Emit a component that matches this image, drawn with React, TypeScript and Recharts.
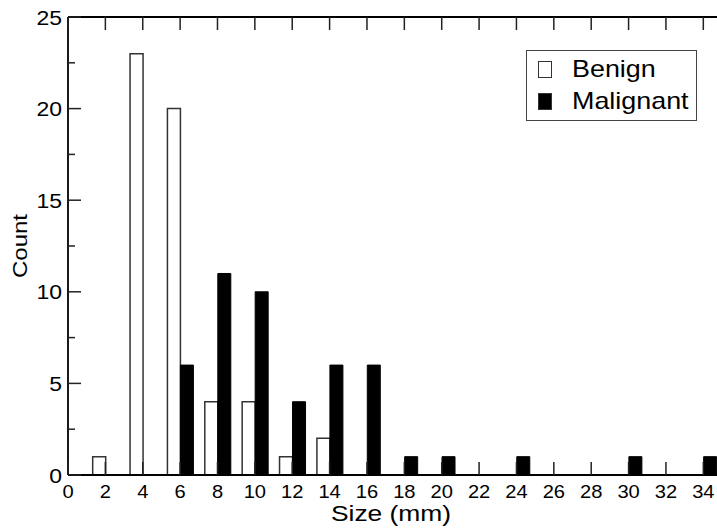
import { BarChart, Bar, XAxis, YAxis, Legend, Label } from "recharts";

// tumour size bins (mm) and counts per bin
const sizes = [2, 4, 6, 8, 10, 12, 14, 16, 18, 20, 22, 24, 26, 28, 30, 32, 34];
const benign = [1, 23, 20, 4, 4, 1, 2, 0, 0, 0, 0, 0, 0, 0, 0, 0, 0];
const malignant = [0, 0, 6, 11, 10, 4, 6, 6, 1, 1, 0, 1, 0, 0, 1, 0, 1];

const xTicks = [0, 2, 4, 6, 8, 10, 12, 14, 16, 18, 20, 22, 24, 26, 28, 30, 32, 34];
const yTicks = [0, 2.5, 5, 7.5, 10, 12.5, 15, 17.5, 20, 22.5, 25];

const data = sizes.map((size, i) => ({
  size,
  Benign: benign[i],
  Malignant: malignant[i],
}));

const FONT = "'Liberation Sans', Arial, sans-serif";
const TICK = "#222";

// the original lettering is a bit wider than Arial, so stretch it horizontally
const Txt = ({ x, y, size, sx = 1.15, anchor = "middle", rotate = 0, children }: any) => (
  <g transform={`translate(${x} ${y}) rotate(${rotate}) scale(${sx} 1)`}>
    <text x={0} y={0} textAnchor={anchor} fontSize={size} fontFamily={FONT} fill="#000">
      {children}
    </text>
  </g>
);

const BottomTick = (props: any) => {
  const { x, y, payload } = props;
  return (
    <g>
      <line x1={x} x2={x} y1={y} y2={y - 13} stroke={TICK} strokeWidth={1.5} />
      <Txt x={x} y={y + 23} size={17.5}>
        {payload.value}
      </Txt>
    </g>
  );
};

const TopTick = (props: any) => {
  const { x, y } = props;
  return <line x1={x} x2={x} y1={y} y2={y + 13} stroke={TICK} strokeWidth={1.5} />;
};

const LeftTick = (props: any) => {
  const { x, y, payload } = props;
  const major = payload.value % 5 === 0;
  return (
    <g>
      <line x1={x} x2={x + (major ? 13 : 7)} y1={y} y2={y} stroke={TICK} strokeWidth={1.5} />
      {major && (
        <Txt x={x - 6} y={y + 7.5} size={20.5} anchor="end" sx={1.12}>
          {payload.value}
        </Txt>
      )}
    </g>
  );
};

const RightTick = (props: any) => {
  const { x, y, payload } = props;
  const major = payload.value % 5 === 0;
  return <line x1={x} x2={x - (major ? 13 : 7)} y1={y} y2={y} stroke={TICK} strokeWidth={1.5} />;
};

const renderLegend = (props: any) => {
  const { payload } = props;
  return (
    <div
      style={{
        border: "1px solid #444",
        width: 171,
        height: 71,
        boxSizing: "border-box",
        background: "#fff",
        paddingTop: 2,
        fontFamily: FONT,
      }}
    >
      {payload.map((entry: any) => (
        <div key={entry.value} style={{ display: "flex", alignItems: "center", height: 32 }}>
          <span
            style={{
              display: "inline-block",
              width: 14,
              height: 17,
              marginLeft: 11,
              boxSizing: "border-box",
              background: entry.color,
              border: "1.5px solid #333",
            }}
          />
          <span
            style={{
              display: "inline-block",
              marginLeft: 20,
              fontSize: 24,
              color: "#000",
              lineHeight: "32px",
              transform: "scaleX(1.12)",
              transformOrigin: "left center",
            }}
          >
            {entry.value}
          </span>
        </div>
      ))}
    </div>
  );
};

export default function App() {
  return (
    <div
      style={{
        position: "absolute",
        left: 0,
        top: 0,
        width: 717,
        height: 531,
        overflow: "hidden",
        background: "#fff",
        fontFamily: FONT,
      }}
    >
      <BarChart
        width={740}
        height={531}
        data={data}
        margin={{ top: 16, right: 17, bottom: 55, left: 67 }}
        barGap={0}
        barSize={13}
      >
        <XAxis
          dataKey="size"
          type="number"
          domain={[0, 35]}
          ticks={xTicks}
          interval={0}
          height={1}
          tickSize={0}
          tickMargin={0}
          tick={<BottomTick />}
          axisLine={{ stroke: "#000", strokeWidth: 1.8 }}
          tickLine={false}
        >
          <Label
            content={(p: any) => {
              const vb = p.viewBox;
              return (
                <Txt x={vb.x + 323} y={vb.y + 46} size={22} sx={1.2}>
                  Size (mm)
                </Txt>
              );
            }}
          />
        </XAxis>
        <XAxis
          xAxisId="top"
          dataKey="size"
          type="number"
          orientation="top"
          domain={[0, 35]}
          ticks={xTicks}
          interval={0}
          height={1}
          tickSize={0}
          tickMargin={0}
          tick={<TopTick />}
          axisLine={{ stroke: "#000", strokeWidth: 1.8 }}
          tickLine={false}
        />
        <YAxis
          type="number"
          domain={[0, 25]}
          ticks={yTicks}
          interval={0}
          width={1}
          tickSize={0}
          tickMargin={0}
          tick={<LeftTick />}
          axisLine={{ stroke: "#000", strokeWidth: 1.8 }}
          tickLine={false}
        >
          <Label
            content={(p: any) => {
              const vb = p.viewBox;
              return (
                <Txt x={vb.x - 40} y={vb.y + vb.height / 2} size={20} sx={1.2} rotate={-90}>
                  Count
                </Txt>
              );
            }}
          />
        </YAxis>
        <YAxis
          yAxisId="right"
          orientation="right"
          type="number"
          domain={[0, 25]}
          ticks={yTicks}
          interval={0}
          width={1}
          tickSize={0}
          tickMargin={0}
          tick={<RightTick />}
          axisLine={{ stroke: "#000", strokeWidth: 1.8 }}
          tickLine={false}
        />
        <Legend
          layout="vertical"
          align="center"
          verticalAlign="middle"
          content={renderLegend}
          wrapperStyle={{ position: "absolute", left: 526, top: 50, width: 171, height: 71 }}
        />
        <Bar dataKey="Benign" fill="#fff" stroke="#333" strokeWidth={1.5} isAnimationActive={false} />
        <Bar dataKey="Malignant" fill="#000" stroke="#000" strokeWidth={1} isAnimationActive={false} />
      </BarChart>
    </div>
  );
}
